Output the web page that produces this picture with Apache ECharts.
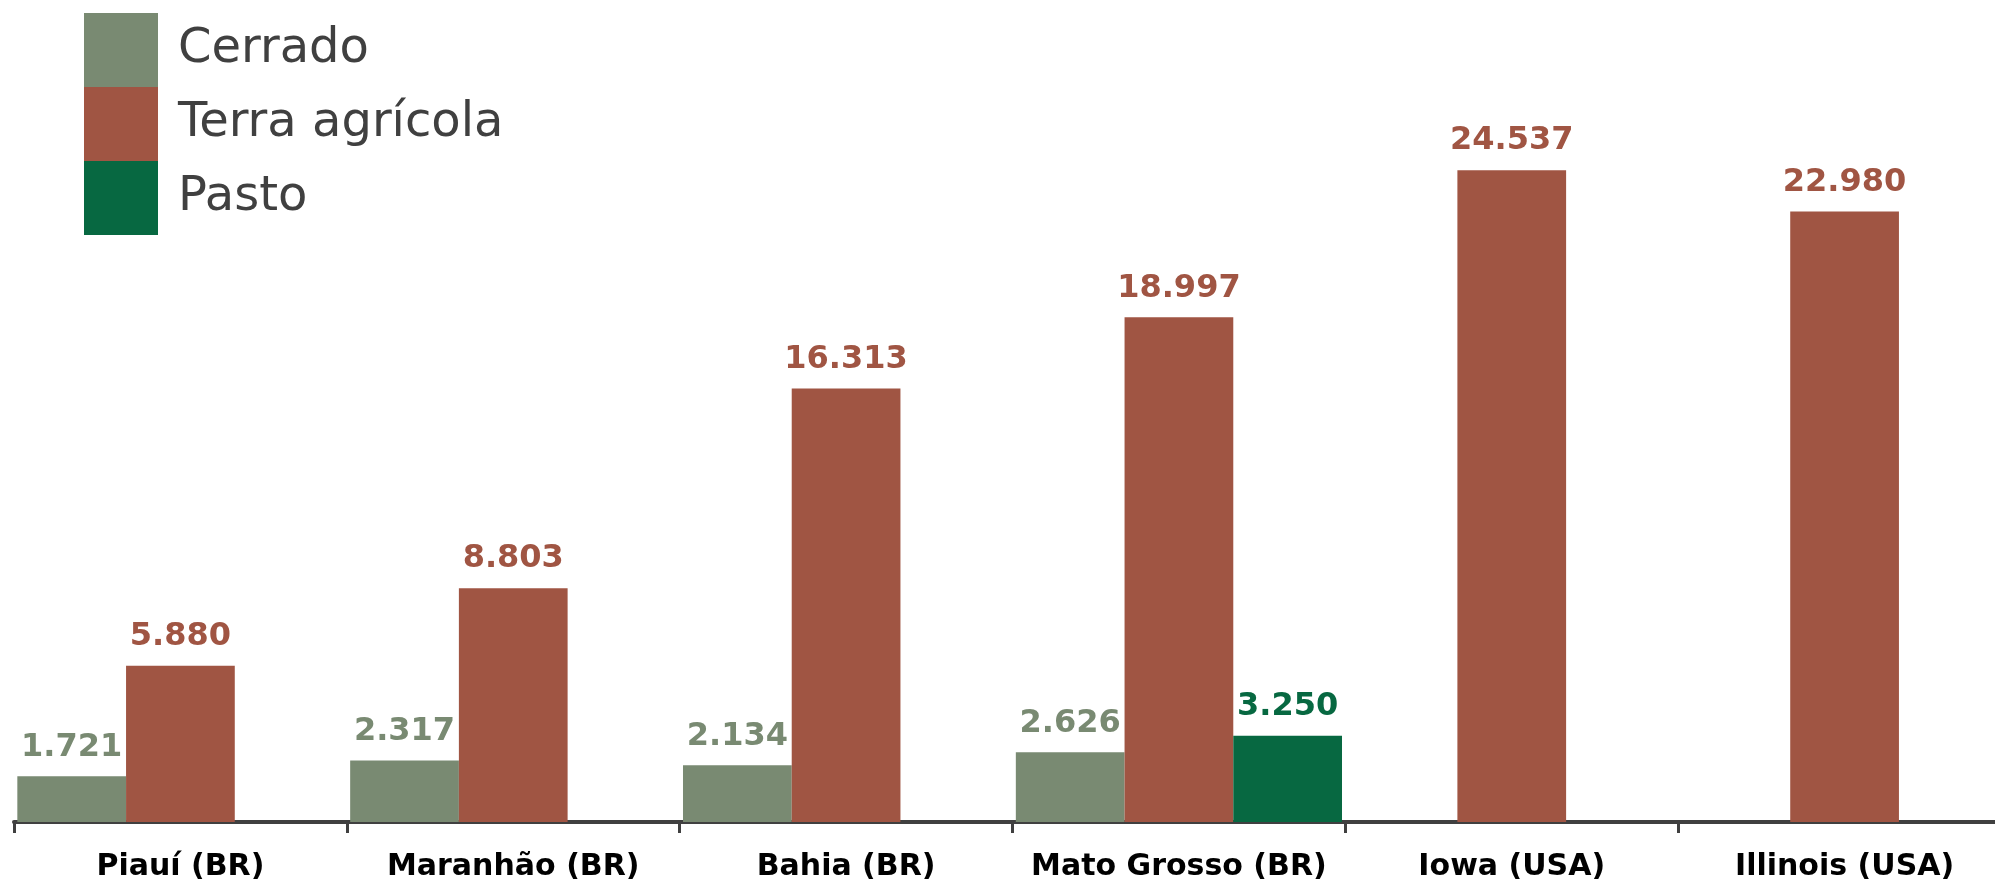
<!DOCTYPE html>
<html><head><meta charset="utf-8">
<script src="https://cdn.jsdelivr.net/npm/echarts@6/dist/echarts.min.js"></script>
<style>html,body{margin:0;padding:0;background:#fff;overflow:hidden}#c{width:2011px;height:883px}</style>
</head><body><div id="c"></div>
<script>
const categories = ['Piauí (BR)', 'Maranhão (BR)', 'Bahia (BR)', 'Mato Grosso (BR)', 'Iowa (USA)', 'Illinois (USA)'];
const seriesNames = ['Cerrado', 'Terra agrícola', 'Pasto'];
const cerrado = [1721, 2317, 2134, 2626, null, null];
const terraAgricola = [5880, 8803, 16313, 18997, 24537, 22980];
const pasto = [null, null, null, 3250, null, null];
const colors = ['#798A72', '#A05543', '#076841'];

const fmt = v => String(v).replace(/\B(?=(\d{3})+(?!\d))/g, '.');
const FONT = 'DejaVu Sans';

function mk(name, data, color) {
  return {
    name, type: 'bar', data, barGap: '0%', barCategoryGap: '2%',
    itemStyle: { color },
    label: {
      show: true, position: 'top', distance: 13, color,
      fontFamily: FONT, fontWeight: 'bold', fontSize: 32,
      formatter: p => p.value == null ? '' : fmt(p.value)
    }
  };
}

const chart = echarts.init(document.getElementById('c'), null, { renderer: 'canvas' });
chart.setOption({
  animation: false,
  backgroundColor: '#fff',
  legend: {
    orient: 'vertical', left: 84, top: 13, padding: 0, itemWidth: 74, itemHeight: 74, itemGap: 0,
    icon: 'rect', data: seriesNames,
    textStyle: { color: '#404040', fontFamily: FONT, fontSize: 48, padding: [10, 0, 0, 15] }
  },
  grid: { left: 14, top: 25, right: 0, bottom: 61, containLabel: false, outerBoundsMode: 'none' },
  xAxis: {
    type: 'category', data: categories,
    axisLine: { lineStyle: { color: '#404040', width: 4 } },
    axisTick: { show: true, length: 11, lineStyle: { color: '#404040', width: 3 } },
    axisLabel: { color: '#000', fontFamily: FONT, fontWeight: 'bold', fontSize: 30, margin: 30, interval: 0 }
  },
  yAxis: { type: 'value', min: 0, max: 30000, show: false, splitLine: { show: false } },
  series: [
    mk(seriesNames[0], cerrado, colors[0]),
    mk(seriesNames[1], terraAgricola, colors[1]),
    mk(seriesNames[2], pasto, colors[2])
  ]
});
</script></body></html>
